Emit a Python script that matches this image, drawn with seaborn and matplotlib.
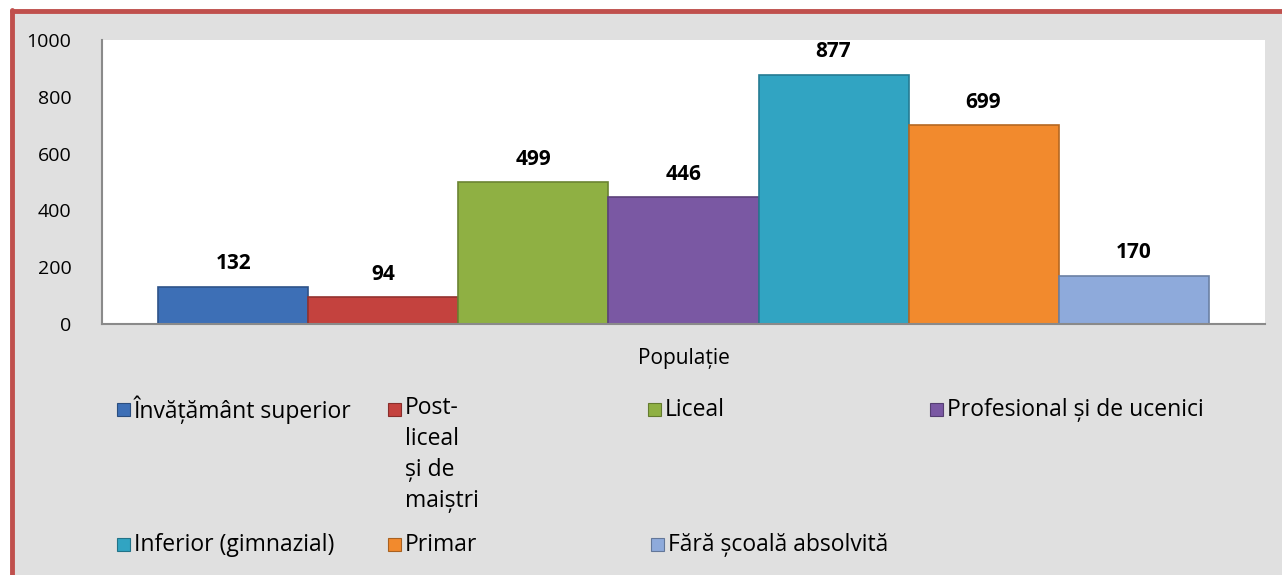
import numpy as np
import pandas as pd
import matplotlib.pyplot as plt
import matplotlib.patches as mpatches
import matplotlib.colors as mcolors
import seaborn as sns

# date
niveluri = ["Învățământ superior", "Post-liceal și de maiștri", "Liceal",
            "Profesional și de ucenici", "Inferior (gimnazial)", "Primar",
            "Fără școală absolvită"]
etichete_legenda = ["Învățământ superior", "Post-\nliceal\nși de\nmaiștri", "Liceal",
                    "Profesional și de ucenici", "Inferior (gimnazial)", "Primar",
                    "Fără școală absolvită"]
valori = [132, 94, 499, 446, 877, 699, 170]
grup = "Populație"
culori = ["#3d6fb6", "#c4423e", "#8fb043", "#7a58a3", "#31a4c2", "#f28a2d", "#8eaadb"]

df = pd.DataFrame({"grup": [grup] * len(niveluri), "nivel": niveluri, "valoare": valori})

sns.set_style("white")
plt.rcParams['font.family'] = ['Open Sans', 'DejaVu Sans']
plt.rcParams['text.color'] = 'black'
plt.rcParams['xtick.color'] = 'black'
plt.rcParams['ytick.color'] = 'black'

fig = plt.figure(figsize=(12.82, 5.75), dpi=100)
fig.patch.set_facecolor("#e0e0e0")
ax = fig.add_axes([102 / 1282, 1 - 324 / 575, (1265 - 102) / 1282, (324 - 40) / 575])

sns.barplot(data=df, x="grup", y="valoare", hue="nivel", hue_order=niveluri,
            palette=culori, saturation=1, width=0.903, legend=False, ax=ax)

# margini mai inchise la bare
for p in ax.patches:
    c = np.array(mcolors.to_rgb(p.get_facecolor()))
    p.set_edgecolor(tuple(c * 0.75))
    p.set_linewidth(1.2)

for cont in ax.containers:
    ax.bar_label(cont, fmt="%d", padding=9, fontsize=15, fontweight="bold", color="black")

ax.set_ylim(0, 1000)
ax.set_yticks(range(0, 1001, 200))
ax.set_xlim(-0.5, 0.5)
ax.set_xlabel("")
ax.set_ylabel("")
ax.tick_params(axis="y", labelsize=14, pad=22, length=0)
ax.tick_params(axis="x", labelsize=15, pad=17, length=0)
ax.set_facecolor("white")
sns.despine(ax=ax)
for s in ["left", "bottom"]:
    ax.spines[s].set_color("#8a8a8a")
    ax.spines[s].set_linewidth(1.5)

# legenda, asezata ca in original
leg_x = [117, 388, 648, 930, 117, 388, 651]
leg_y = [410, 410, 410, 410, 545, 545, 545]
W, H = 1282, 575
for i, lab in enumerate(etichete_legenda):
    x, y = leg_x[i], leg_y[i]
    fig.add_artist(mpatches.Rectangle((x / W, 1 - (y + 6) / H), 13 / W, 13 / H,
                                      transform=fig.transFigure,
                                      facecolor=culori[i],
                                      edgecolor=tuple(np.array(mcolors.to_rgb(culori[i])) * 0.7),
                                      linewidth=0.8))
    multi = "\n" in lab
    fig.text((x + 17) / W, 1 - (y - 14) / H if multi else 1 - y / H, lab, fontsize=16.5,
             va="top" if multi else "center", ha="left", linespacing=1.38)

# chenar rosu
fig.add_artist(plt.Line2D([12 / W, 12 / W], [0, 1 - 10 / H], transform=fig.transFigure,
                          color="#c0504d", linewidth=3.5))
fig.add_artist(plt.Line2D([12 / W, 1], [1 - 11 / H, 1 - 11 / H], transform=fig.transFigure,
                          color="#c0504d", linewidth=3.5))
fig.add_artist(mpatches.Rectangle((0, 0), 10 / W, 1, transform=fig.transFigure,
                                  facecolor="white", edgecolor="none"))
fig.add_artist(mpatches.Rectangle((0, 1 - 9 / H), 1, 9 / H, transform=fig.transFigure,
                                  facecolor="white", edgecolor="none"))

fig.savefig("out.png", dpi=100)
